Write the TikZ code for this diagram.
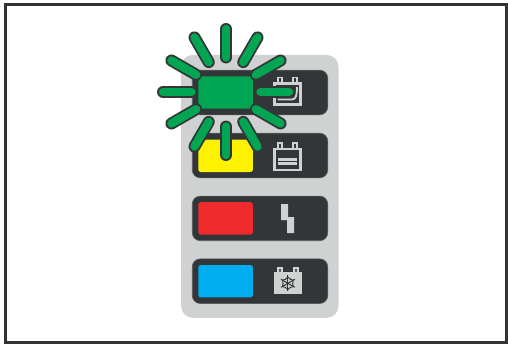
\documentclass[tikz,border=0pt]{standalone}
\usepackage{tikz}
\usetikzlibrary{positioning}

\definecolor{framegray}{HTML}{333333}
\definecolor{panelgray}{HTML}{D0D2D1}
\definecolor{rowdark}{HTML}{333639}
\definecolor{rowedge}{HTML}{5A5C5E}
\definecolor{lampgreen}{HTML}{00A651}
\definecolor{lampyellow}{HTML}{FFF200}
\definecolor{lampred}{HTML}{EF2B2D}
\definecolor{lampblue}{HTML}{00AEEF}

\begin{document}
\begin{tikzpicture}[
    x=1pt, y=-1pt,
    panelbox/.style={rectangle, fill=panelgray, rounded corners=12pt, minimum width=157.5pt, minimum height=263pt, inner sep=0pt},
    rowbox/.style={rectangle, draw=rowedge, fill=rowdark, line width=0.6pt, rounded corners=8pt, minimum width=135.5pt, minimum height=44.6pt, inner sep=0pt},
    greenlamp/.style={rectangle, fill=lampgreen, rounded corners=2.5pt, minimum width=54.6pt, minimum height=32.4pt, inner sep=0pt},
    yellowlamp/.style={greenlamp, fill=lampyellow},
    redlamp/.style={greenlamp, fill=lampred},
    bluelamp/.style={greenlamp, fill=lampblue},
    iconline/.style={draw=panelgray, line width=2.6pt},
    rayedge/.style={draw=rowdark, line width=12pt, line cap=round},
    rayfill/.style={draw=lampgreen, line width=8.4pt, line cap=round}
]
\useasboundingbox (0,0) rectangle (508,345);

% Frame
\draw[framegray, line width=3pt] (5,4.6) rectangle (506.8,342.2);

% Panel and rows
\node[panelbox] (panel) at (259.8,186.4) {};
\node[rowbox] (row1) at (260,92.5) {};
\node[rowbox] (row2) at (260,155.5) {};
\node[rowbox] (row3) at (260,218.4) {};
\node[rowbox] (row4) at (260,281.2) {};

% Lamps
\node[greenlamp] (lamp1) at (225.6,92.5) {};
\node[yellowlamp] (lamp2) at (225.6,155.8) {};
\node[redlamp] (lamp3) at (225.6,218.4) {};
\node[bluelamp] (lamp4) at (225.6,281.2) {};

% Battery with curved mark
\begin{scope}[shift={(273,82)}]
    \draw[iconline] (1.5,1.5) rectangle (27.5,22.5);
    \draw[iconline, line width=1.9pt] (5,1) -- (5,-4.5) -- (9,-4.5) -- (9,1);
    \draw[iconline, line width=1.9pt] (20,1) -- (20,-4.5) -- (24,-4.5) -- (24,1);
    \draw[iconline, line width=1.8pt] (4.5,17.5) -- (19,17.5) .. controls (23,17.5) and (24,13) .. (24,5);
\end{scope}

% Battery with bar
\begin{scope}[shift={(273,147.3)}]
    \draw[iconline] (1.5,1.5) rectangle (27.5,22.5);
    \draw[iconline, line width=1.9pt] (5,1) -- (5,-4.5) -- (9,-4.5) -- (9,1);
    \draw[iconline, line width=1.9pt] (20,1) -- (20,-4.5) -- (24,-4.5) -- (24,1);
    \fill[panelgray] (4.7,11) rectangle (24.3,17.6);
    \draw[rowdark, line width=0.7pt] (4.7,14.2) -- (24.3,14.2);
\end{scope}

% Bolt
\fill[panelgray] (281,204) -- (288,204) -- (288,217) -- (294,217) -- (294,233) -- (287,233) -- (287,220) -- (281,220) -- cycle;

% Battery with snowflake
\begin{scope}[shift={(273.7,271.7)}]
    \fill[panelgray] (0,0) rectangle (28.3,22.6);
    \draw[iconline, line width=1.9pt, fill=rowedge] (4.5,0) -- (4.5,-4) -- (8,-4) -- (8,0);
    \draw[iconline, line width=1.9pt, fill=rowedge] (20.5,0) -- (20.5,-4) -- (24,-4) -- (24,0);
    \foreach \a in {30,90,150,210,270,330} {
        \begin{scope}[shift={(14.2,11.6)}, rotate=\a]
            \draw[rowdark, line width=1pt] (0,0) -- (8,0);
            \draw[rowdark, line width=0.9pt] (4,-2.6) -- (6.2,0) -- (4,2.6);
        \end{scope}
    }
\end{scope}

% Rays
\foreach \a in {0,30,...,330} {
    \draw[rayedge] (\a:34.5) ++(226,92) coordinate (raya) (\a:63) ++(226,92) coordinate (rayb) (raya) -- (rayb);
    \draw[rayfill] (raya) -- (rayb);
}

\end{tikzpicture}
\end{document}
